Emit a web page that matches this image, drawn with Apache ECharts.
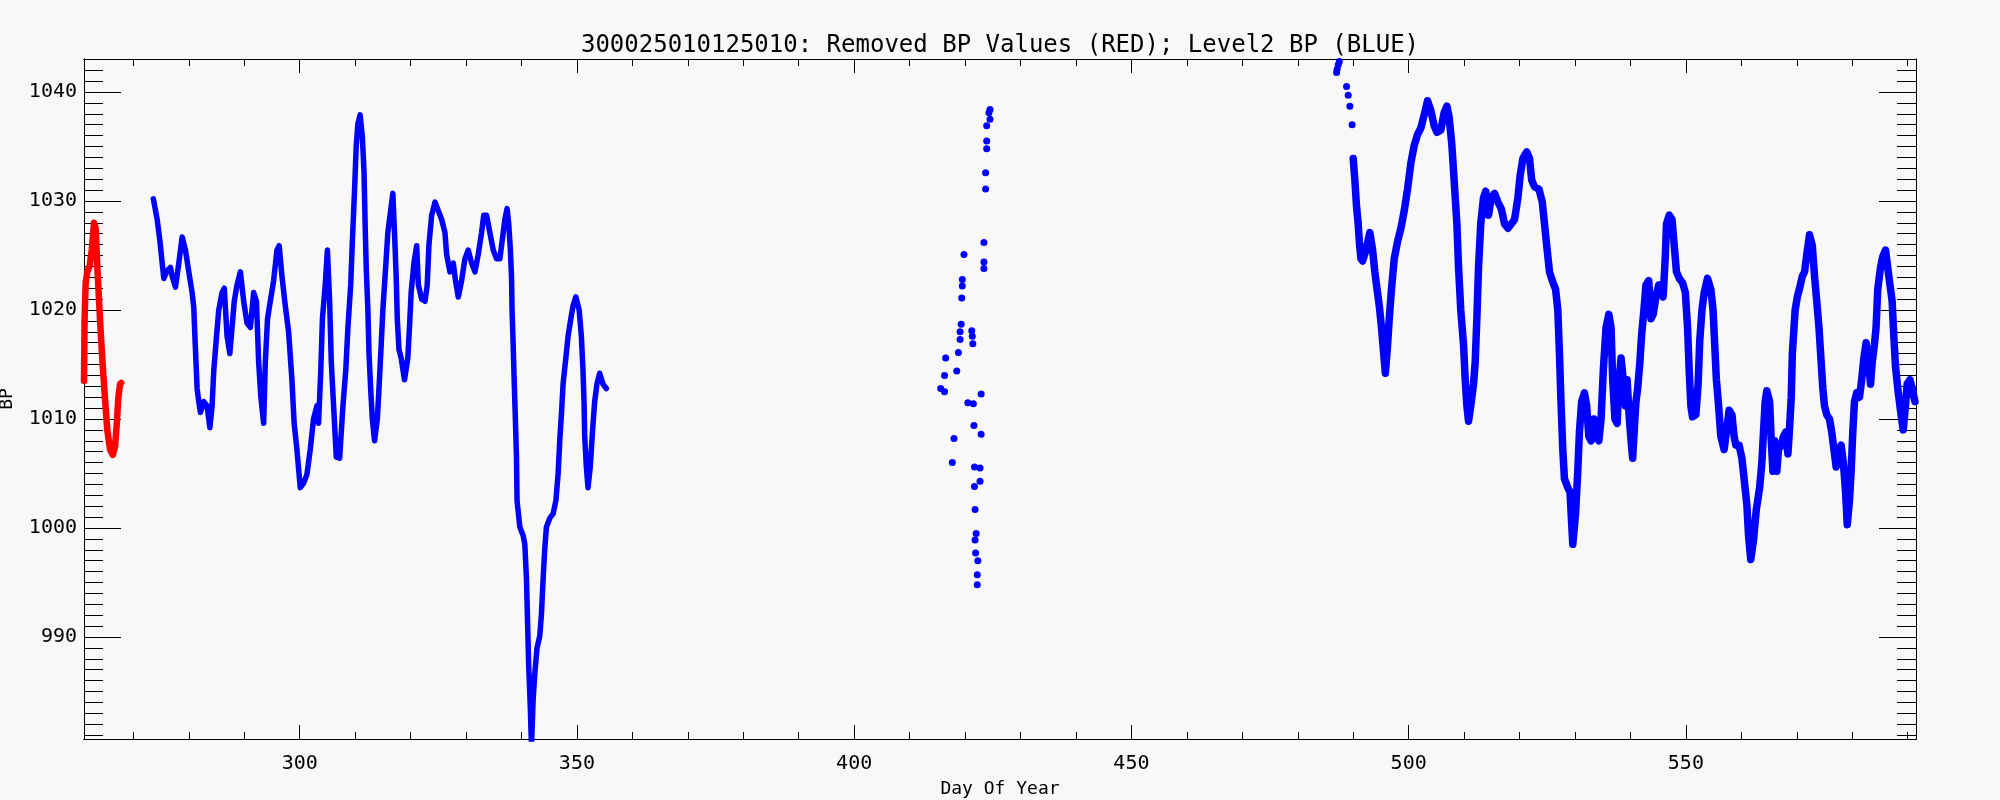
<!DOCTYPE html>
<html><head><meta charset="utf-8">
<script src="https://cdn.jsdelivr.net/npm/echarts@6/dist/echarts.min.js"></script>
<style>html,body{margin:0;padding:0;background:#f8f8f8;} #chart{width:2000px;height:800px;}</style>
</head><body><div id="chart"></div>
<script>
const TITLE = '300025010125010: Removed BP Values (RED); Level2 BP (BLUE)';
const X_NAME = 'Day Of Year';
const Y_NAME = 'BP';
const X_MIN = 261.1, X_MAX = 591.5;
const Y_MIN = 980.64, Y_MAX = 1043.03;
const xMajorTicks = [300, 350, 400, 450, 500, 550];
const xMinorTicks = [270, 280, 290, 310, 320, 330, 340, 360, 370, 380, 390, 410, 420, 430, 440, 460, 470, 480, 490, 510, 520, 530, 540, 560, 570, 580, 590];
const yMajorTicks = [990, 1000, 1010, 1020, 1030, 1040];
const yMinorTicks = [981, 982, 983, 984, 985, 986, 987, 988, 989, 991, 992, 993, 994, 995, 996, 997, 998, 999,
  1001, 1002, 1003, 1004, 1005, 1006, 1007, 1008, 1009, 1011, 1012, 1013, 1014, 1015, 1016, 1017, 1018, 1019,
  1021, 1022, 1023, 1024, 1025, 1026, 1027, 1028, 1029, 1031, 1032, 1033, 1034, 1035, 1036, 1037, 1038, 1039,
  1041, 1042, 1043];

// Removed BP values (red)
const redDay = [261.1, 261.2, 261.4, 261.7, 262.1, 262.5, 262.9, 263.2, 263.5, 264.0, 264.4, 264.8, 265.3, 265.8, 266.3, 266.7, 267.0, 267.3, 267.6, 267.8];
const redBP  = [1013.5, 1019.0, 1022.5, 1023.5, 1024.0, 1025.5, 1028.0, 1027.5, 1024.0, 1019.0, 1015.5, 1012.5, 1009.0, 1007.2, 1006.7, 1007.5, 1009.5, 1012.0, 1013.2, 1013.3];

// Level2 BP, first segment (blue)
const blueDay1 = [273.6, 274.3, 274.8, 275.2, 275.5, 276.1, 276.7, 277.0, 277.6, 278.2, 278.8, 279.4, 280.0, 280.6, 280.9, 281.1, 281.3, 281.5, 281.8, 282.1,
  282.7, 283.3, 283.8, 284.2, 284.5, 285.0, 285.4, 286.0, 286.4, 286.9, 287.4, 287.8, 288.2, 288.7, 289.3, 289.9, 290.5, 291.1, 291.7, 292.2,
  292.6, 293.0, 293.5, 293.8, 294.2, 294.7, 295.3, 295.9, 296.3, 296.8, 297.4, 298.0, 298.6, 299.0, 299.5, 300.1, 300.7, 301.3, 301.9, 302.5,
  303.1, 303.4, 303.8, 304.1, 304.6, 305.0, 305.4, 305.7, 306.2, 306.6, 307.2, 307.8, 308.3, 308.7, 309.2, 309.5, 309.9, 310.2, 310.5, 310.9,
  311.3, 311.6, 311.8, 312.0, 312.3, 312.5, 312.8, 313.1, 313.5, 314.0, 314.3, 314.7, 315.0, 315.5, 315.9, 316.4, 316.8, 317.1, 317.4, 317.6,
  317.9, 318.3, 318.9, 319.5, 319.8, 320.1, 320.6, 321.1, 321.4, 322.0, 322.6, 323.0, 323.3, 323.8, 324.4, 325.0, 325.6, 326.2, 326.5, 327.1,
  327.7, 328.1, 328.6, 329.2, 329.8, 330.4, 331.0, 331.6, 332.2, 332.8, 333.2, 333.7, 334.3, 334.9, 335.5, 336.1, 336.5, 337.0, 337.4, 337.7,
  338.0, 338.2, 338.3, 338.5, 338.7, 338.9, 339.1, 339.2, 339.7, 340.3, 340.6, 340.9, 341.1, 341.3, 341.6, 341.8, 342.1, 342.4, 342.8, 343.3,
  343.6, 343.9, 344.2, 344.5, 345.1, 345.7, 346.2, 346.6, 346.9, 347.2, 347.5, 348.0, 348.4, 348.9, 349.3, 349.8, 350.4, 350.8, 351.1, 351.3,
  351.4, 351.7, 352.0, 352.4, 352.8, 353.2, 353.6, 354.1, 354.7, 355.3];
const blueBP1 = [1030.2, 1028.3, 1026.3, 1024.3, 1022.9, 1023.6, 1023.9, 1023.1, 1022.1, 1024.3, 1026.7, 1025.5, 1023.5, 1021.6, 1020.2, 1017.6, 1015.2, 1012.8, 1011.6, 1010.6,
  1011.6, 1011.2, 1009.2, 1011.2, 1014.4, 1017.6, 1020.0, 1021.6, 1022.0, 1017.6, 1016.0, 1018.4, 1020.8, 1022.3, 1023.5, 1020.8, 1018.8, 1018.4, 1021.6, 1020.8,
  1015.2, 1012.0, 1009.6, 1015.2, 1019.2, 1020.8, 1022.7, 1025.5, 1025.9, 1023.1, 1020.4, 1018.0, 1013.6, 1009.6, 1007.2, 1003.7, 1004.1, 1004.9, 1007.2, 1010.0,
  1011.2, 1009.6, 1014.4, 1019.2, 1022.3, 1025.5, 1020.8, 1015.2, 1010.4, 1006.5, 1006.4, 1011.2, 1014.4, 1018.4, 1022.3, 1026.3, 1031.1, 1035.1, 1037.1, 1037.9,
  1035.9, 1032.7, 1027.9, 1023.9, 1020.0, 1016.0, 1012.8, 1010.0, 1008.0, 1010.0, 1012.8, 1016.8, 1020.0, 1023.9, 1027.1, 1029.1, 1030.7, 1027.1, 1023.1, 1019.2,
  1016.4, 1015.6, 1013.6, 1015.6, 1018.4, 1021.6, 1024.3, 1025.9, 1022.3, 1021.0, 1020.8, 1022.3, 1025.9, 1028.7, 1029.9, 1029.1, 1028.3, 1027.1, 1025.1, 1023.5,
  1024.3, 1022.7, 1021.2, 1022.7, 1024.7, 1025.5, 1024.3, 1023.5, 1025.1, 1027.1, 1028.7, 1028.7, 1027.1, 1025.5, 1024.7, 1024.7, 1026.3, 1028.3, 1029.3, 1027.9,
  1025.5, 1023.1, 1020.0, 1016.8, 1013.2, 1010.0, 1006.4, 1002.5, 1000.1, 999.3, 998.5, 995.3, 991.3, 987.4, 983.4, 980.0, 984.2, 986.6, 989.0, 990.1,
  992.1, 995.3, 998.1, 1000.1, 1000.9, 1001.3, 1002.5, 1004.9, 1008.0, 1010.4, 1013.2, 1015.6, 1017.6, 1019.2, 1020.4, 1021.2, 1020.0, 1017.6, 1014.4, 1011.2,
  1008.4, 1005.6, 1003.7, 1005.6, 1008.8, 1011.6, 1013.2, 1014.2, 1013.2, 1012.8];

// Level2 BP, sparse points (blue)
const blueDaySparse = [415.6, 416.3, 416.3, 416.5, 417.7, 418.0, 418.5, 418.8, 419.1, 419.1, 419.3, 419.4, 419.5, 419.5, 419.8,
  420.5, 421.2, 421.3, 421.4, 421.5, 421.6, 421.7, 421.7, 421.8, 421.8, 421.9, 422.0, 422.2, 422.2, 422.3, 422.7, 422.7, 422.9, 422.9,
  423.4, 423.4, 423.4, 423.7, 423.7, 423.9, 423.9, 423.9, 424.3, 424.5, 424.5,
  487.0, 487.1, 487.3, 487.5, 488.8, 489.1, 489.4, 489.8];
const blueBPSparse = [1012.8, 1014.0, 1012.5, 1015.6, 1006.0, 1008.2, 1014.4, 1016.1, 1018.0, 1017.3, 1018.7, 1021.1, 1022.8, 1022.2, 1025.1,
  1011.5, 1018.1, 1017.6, 1016.9, 1011.4, 1009.4, 1005.6, 1003.8, 1001.7, 998.9, 997.7, 999.5, 995.7, 994.8, 997.0, 1005.5, 1004.3, 1012.3, 1008.6,
  1026.2, 1024.4, 1023.8, 1032.6, 1031.1, 1036.9, 1035.5, 1034.8, 1038.1, 1038.4, 1037.5,
  1041.8, 1042.1, 1042.5, 1042.8, 1040.5, 1039.7, 1038.7, 1037.0];

// Level2 BP, last segment (blue)
const blueDay3 = [490.0, 490.3, 490.6, 490.9, 491.1, 491.4, 491.7, 492.3, 493.0, 493.5, 493.9, 494.3, 494.7, 495.1, 495.5, 495.8, 496.2, 496.5, 496.9, 497.4,
  498.0, 498.6, 499.2, 499.8, 500.4, 501.0, 501.6, 502.2, 502.8, 503.4, 504.0, 504.6, 505.1, 505.8, 506.4, 506.9, 507.3, 507.8, 508.2, 508.7,
  509.0, 509.4, 509.9, 510.2, 510.5, 510.8, 511.2, 511.7, 512.0, 512.3, 512.6, 513.0, 513.5, 513.9, 514.4, 514.9, 515.5, 516.1, 516.7, 517.3,
  517.9, 518.5, 519.1, 519.7, 520.1, 520.6, 521.3, 521.8, 522.2, 522.7, 523.5, 524.1, 524.5, 524.9, 525.4, 525.9, 526.5, 526.9, 527.2, 527.5,
  527.8, 528.1, 528.7, 529.1, 529.6, 530.1, 530.5, 530.8, 531.2, 531.7, 532.1, 532.5, 532.9, 533.4, 533.8, 534.3, 534.7, 535.1, 535.6, 536.1,
  536.5, 536.8, 537.2, 537.6, 537.9, 538.3, 538.7, 539.1, 539.4, 539.8, 540.2, 540.4, 540.8, 541.0, 541.3, 541.7, 542.0, 542.5, 542.8, 543.3,
  543.7, 544.1, 544.6, 545.1, 545.5, 545.9, 546.3, 546.5, 547.0, 547.5, 547.9, 548.3, 548.8, 549.4, 549.9, 550.3, 550.6, 550.9, 551.2, 551.8,
  552.2, 552.5, 552.9, 553.3, 553.9, 554.5, 554.9, 555.2, 555.5, 555.9, 556.3, 556.9, 557.3, 557.8, 558.3, 558.7, 559.0, 559.6, 560.1, 560.5,
  561.0, 561.3, 561.7, 562.2, 562.7, 563.3, 563.7, 564.0, 564.3, 564.6, 565.1, 565.4, 565.7, 566.0, 566.4, 566.7, 567.2, 567.6, 568.0, 568.4,
  568.7, 569.0, 569.2, 569.4, 569.7, 570.1, 570.5, 571.0, 571.4, 571.8, 572.3, 572.8, 573.2, 573.6, 574.0, 574.4, 574.7, 575.0, 575.4, 575.9,
  576.3, 576.7, 577.1, 577.6, 578.0, 578.4, 578.8, 579.1, 579.5, 579.8, 580.1, 580.4, 580.8, 581.3, 581.7, 582.1, 582.5, 582.8, 583.3, 583.6,
  584.0, 584.3, 584.6, 585.1, 585.5, 586.0, 586.3, 586.7, 587.2, 587.5, 587.8, 588.3, 588.8, 589.2, 589.6, 589.9, 590.4, 590.8, 591.3];
const blueBP3 = [1033.9, 1031.9, 1029.5, 1027.9, 1026.3, 1024.7, 1024.5, 1025.5, 1027.1, 1025.5, 1023.5, 1021.9, 1020.4, 1018.4, 1016.0, 1014.2, 1016.8, 1019.2, 1021.9, 1024.7,
  1026.3, 1027.5, 1029.1, 1031.1, 1033.5, 1035.1, 1036.1, 1036.7, 1037.9, 1039.2, 1038.3, 1036.9, 1036.3, 1036.5, 1038.1, 1038.7, 1037.7, 1035.1, 1031.9, 1027.9,
  1023.9, 1020.0, 1016.8, 1013.6, 1011.2, 1009.8, 1011.2, 1013.2, 1015.2, 1019.2, 1023.9, 1027.9, 1030.3, 1030.9, 1028.7, 1030.3, 1030.7, 1029.9, 1029.3, 1027.9,
  1027.5, 1027.9, 1028.3, 1030.3, 1032.3, 1033.9, 1034.5, 1033.9, 1031.9, 1031.3, 1031.1, 1029.9, 1027.9, 1025.9, 1023.5, 1022.7, 1021.9, 1020.0, 1016.0, 1011.2,
  1007.2, 1004.5, 1003.7, 1003.3, 998.5, 1001.3, 1005.2, 1008.8, 1011.6, 1012.4, 1011.2, 1008.4, 1008.0, 1010.0, 1008.4, 1008.0, 1010.0, 1014.4, 1018.4, 1019.6,
  1018.4, 1013.6, 1010.0, 1009.6, 1013.2, 1015.6, 1013.6, 1011.2, 1013.6, 1010.0, 1007.5, 1006.4, 1010.0, 1011.6, 1012.8, 1015.2, 1017.6, 1020.4, 1022.3, 1022.7,
  1019.2, 1019.6, 1021.2, 1022.3, 1021.6, 1021.2, 1025.1, 1027.9, 1028.7, 1028.3, 1025.9, 1023.5, 1022.9, 1022.5, 1021.6, 1018.4, 1014.4, 1011.2, 1010.2, 1010.4,
  1013.2, 1017.2, 1020.0, 1021.6, 1022.9, 1021.9, 1020.0, 1016.8, 1013.6, 1011.2, 1008.4, 1007.2, 1008.8, 1010.8, 1010.4, 1008.4, 1007.6, 1007.6, 1006.4, 1004.5,
  1002.1, 999.3, 997.1, 998.9, 1001.7, 1003.7, 1006.0, 1008.8, 1011.6, 1012.6, 1011.6, 1008.0, 1005.2, 1008.0, 1005.2, 1007.2, 1007.6, 1008.4, 1008.8, 1006.8,
  1009.2, 1012.0, 1016.0, 1017.6, 1020.0, 1021.2, 1022.0, 1023.1, 1023.5, 1025.1, 1026.9, 1025.9, 1023.1, 1020.8, 1018.4, 1015.2, 1012.8, 1011.2, 1010.4, 1010.0,
  1008.8, 1007.2, 1005.6, 1007.2, 1007.6, 1006.0, 1003.3, 1000.3, 1002.5, 1005.2, 1008.8, 1011.6, 1012.4, 1012.0, 1013.6, 1015.6, 1017.0, 1016.0, 1013.2, 1015.2,
  1016.8, 1018.4, 1021.9, 1023.9, 1024.9, 1025.5, 1024.3, 1022.7, 1020.8, 1017.6, 1014.8, 1012.4, 1010.4, 1009.0, 1011.2, 1013.2, 1013.6, 1012.8, 1011.6];

const FONT = '"DejaVu Sans Mono", "Liberation Mono", monospace';
const zip = (xs, ys) => xs.map((x, i) => [x, ys[i]]);
const BLACK = '#000000';
const plain = v => String(v);

function xAxisDef(pos, ticks, len, labels) {
  return {
    type: 'value', min: X_MIN, max: X_MAX, position: pos,
    axisLine: { show: true, onZero: false, lineStyle: { color: BLACK, width: 1 } },
    splitLine: { show: false },
    axisTick: { show: true, inside: true, length: len, customValues: ticks, lineStyle: { color: BLACK, width: 1 } },
    axisLabel: labels ? { show: true, customValues: ticks, formatter: plain, margin: 15, color: BLACK, fontFamily: FONT, fontSize: 20 } : { show: false }
  };
}
function yAxisDef(pos, ticks, len, labels) {
  return {
    type: 'value', min: Y_MIN, max: Y_MAX, position: pos,
    axisLine: { show: true, onZero: false, lineStyle: { color: BLACK, width: 1 } },
    splitLine: { show: false },
    axisTick: { show: true, inside: true, length: len, customValues: ticks, lineStyle: { color: BLACK, width: 1 } },
    axisLabel: labels ? { show: true, customValues: ticks, formatter: plain, margin: 7, color: BLACK, fontFamily: FONT, fontSize: 20 } : { show: false }
  };
}

const chart = echarts.init(document.getElementById('chart'), null, { renderer: 'canvas' });
chart.setOption({
  backgroundColor: '#f8f8f8',
  animation: false,
  title: {
    text: TITLE, left: 'center', top: 29,
    textStyle: { fontFamily: FONT, fontSize: 24, fontWeight: 'normal', color: BLACK }
  },
  grid: { left: 84, top: 59, width: 1832, height: 680, containLabel: false, show: false },
  xAxis: [
    xAxisDef('bottom', xMajorTicks, 14, true),
    xAxisDef('bottom', xMinorTicks, 7, false),
    xAxisDef('top', xMajorTicks, 14, false),
    xAxisDef('top', xMinorTicks, 7, false)
  ],
  yAxis: [
    yAxisDef('left', yMajorTicks, 37, true),
    yAxisDef('left', yMinorTicks, 19, false),
    yAxisDef('right', yMajorTicks, 37, false),
    yAxisDef('right', yMinorTicks, 19, false)
  ],
  graphic: [
    { type: 'text', x: 1000, y: 789.5, silent: true,
      style: { text: X_NAME, fill: BLACK, font: '18px ' + FONT, align: 'center', verticalAlign: 'middle' } },
    { type: 'text', x: 7, y: 399, rotation: Math.PI / 2, silent: true,
      style: { text: Y_NAME, fill: BLACK, font: '18px ' + FONT, align: 'center', verticalAlign: 'middle' } }
  ],
  series: [
    { name: 'Removed BP', type: 'line', xAxisIndex: 0, yAxisIndex: 0, data: zip(redDay, redBP),
      symbol: 'none', clip: true, silent: true,
      lineStyle: { color: '#ff0000', width: 6.5, cap: 'round', join: 'round', opacity: 1 } },
    { name: 'Level2 BP', type: 'line', xAxisIndex: 0, yAxisIndex: 0, data: zip(blueDay1, blueBP1),
      symbol: 'none', clip: true, silent: true,
      lineStyle: { color: '#0000ff', width: 5.5, cap: 'round', join: 'round', opacity: 1 } },
    { name: 'Level2 BP sparse', type: 'scatter', xAxisIndex: 0, yAxisIndex: 0, data: zip(blueDaySparse, blueBPSparse),
      symbol: 'circle', symbolSize: 7, clip: true, silent: true,
      itemStyle: { color: '#0000ff', opacity: 1 } },
    { name: 'Level2 BP late', type: 'line', xAxisIndex: 0, yAxisIndex: 0, data: zip(blueDay3, blueBP3),
      symbol: 'none', clip: true, silent: true,
      lineStyle: { color: '#0000ff', width: 7.5, cap: 'round', join: 'round', opacity: 1 } }
  ]
});
</script>
</body></html>
